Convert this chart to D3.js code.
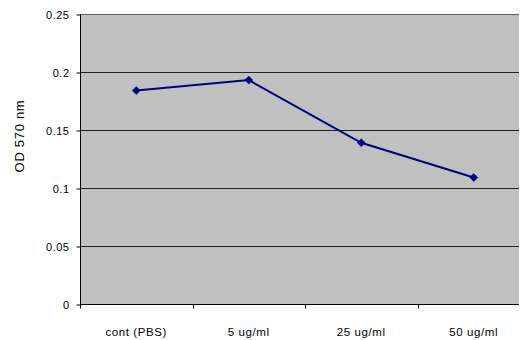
<!DOCTYPE html>
<html>
<head>
<meta charset="utf-8">
<script src="https://cdn.jsdelivr.net/npm/d3@7"></script>
<style>
  html, body { margin: 0; padding: 0; background: #fff; }
  svg { display: block; font-family: "Liberation Sans", Arial, sans-serif; }
</style>
</head>
<body>
<svg id="chart" width="520" height="340"></svg>
<script>
// Dose groups and measured optical density
const categories = ["cont (PBS)", "5 ug/ml", "25 ug/ml", "50 ug/ml"];
const odValues = [0.184, 0.193, 0.139, 0.109];
const yTicks = [0, 0.05, 0.1, 0.15, 0.2, 0.25];
const yTickLabels = ["0", "0.05", "0.1", "0.15", "0.2", "0.25"];

const svg = d3.select("#chart");
const plotLeft = 80, plotTop = 14, plotBottom = 304, plotRight = 519, bandRight = 530;

const x = d3.scaleBand().domain(categories).range([plotLeft, bandRight]).padding(0);
const y = d3.scaleLinear().domain([0, 0.25]).range([plotBottom, plotTop]);

// plot background
svg.append("rect")
  .attr("x", plotLeft).attr("y", plotTop)
  .attr("width", plotRight - plotLeft).attr("height", plotBottom - plotTop)
  .attr("fill", "#c0c0c0");

// horizontal gridlines
svg.append("g")
  .selectAll("line")
  .data(yTicks.slice(1))
  .join("line")
  .attr("x1", plotLeft).attr("x2", plotRight)
  .attr("y1", d => Math.round(y(d)) + 0.5)
  .attr("y2", d => Math.round(y(d)) + 0.5)
  .attr("stroke", (d, i) => i === yTicks.length - 2 ? "#606060" : "#202020")
  .attr("stroke-width", 1);

// y axis
const yAxis = d3.axisLeft(y)
  .tickValues(yTicks)
  .tickFormat((d, i) => yTickLabels[i])
  .tickSize(4).tickPadding(7);
const gy = svg.append("g").attr("transform", `translate(${plotLeft + 0.5},0.5)`).call(yAxis);
gy.select(".domain").attr("stroke", "#000").attr("d", `M0,${plotTop}V${plotBottom}`);
gy.selectAll(".tick line").attr("stroke", "#000");
gy.selectAll(".tick text").attr("font-size", 11).attr("fill", "#000")
  .attr("letter-spacing", 0.5)
  .attr("font-family", "Liberation Sans, Arial, sans-serif");

// x axis with ticks on category boundaries
const gx = svg.append("g").attr("transform", `translate(0,${plotBottom + 0.5})`);
gx.append("line").attr("x1", plotLeft).attr("x2", plotRight).attr("stroke", "#000");
gx.selectAll("line.tk")
  .data(categories)
  .join("line")
  .attr("class", "tk")
  .attr("x1", d => Math.round(x(d)) + 0.5).attr("x2", d => Math.round(x(d)) + 0.5)
  .attr("y1", 0).attr("y2", 4)
  .attr("stroke", "#000");
gx.selectAll("text")
  .data(categories)
  .join("text")
  .attr("x", d => x(d) + x.bandwidth() / 2)
  .attr("y", 31)
  .attr("text-anchor", "middle")
  .attr("font-size", 11.5)
  .attr("letter-spacing", 0.6)
  .attr("fill", "#000")
  .text(d => d);

// y axis title
svg.append("text")
  .attr("transform", "translate(24,136) rotate(-90)")
  .attr("text-anchor", "middle")
  .attr("font-size", 13)
  .attr("letter-spacing", 0.7)
  .attr("fill", "#000")
  .text("OD 570 nm");

// series line
const pts = categories.map((c, i) => [x(c) + x.bandwidth() / 2, y(odValues[i])]);
svg.append("path")
  .attr("d", d3.line()(pts))
  .attr("fill", "none")
  .attr("stroke", "#000080")
  .attr("stroke-width", 2);

// diamond markers
svg.append("g")
  .selectAll("path")
  .data(pts)
  .join("path")
  .attr("transform", d => `translate(${d[0]},${d[1]})`)
  .attr("d", "M0,-4L4,0L0,4L-4,0Z")
  .attr("fill", "#000080")
  .attr("stroke", "#000080")
  .attr("stroke-width", 0.5);
</script>
</body>
</html>
